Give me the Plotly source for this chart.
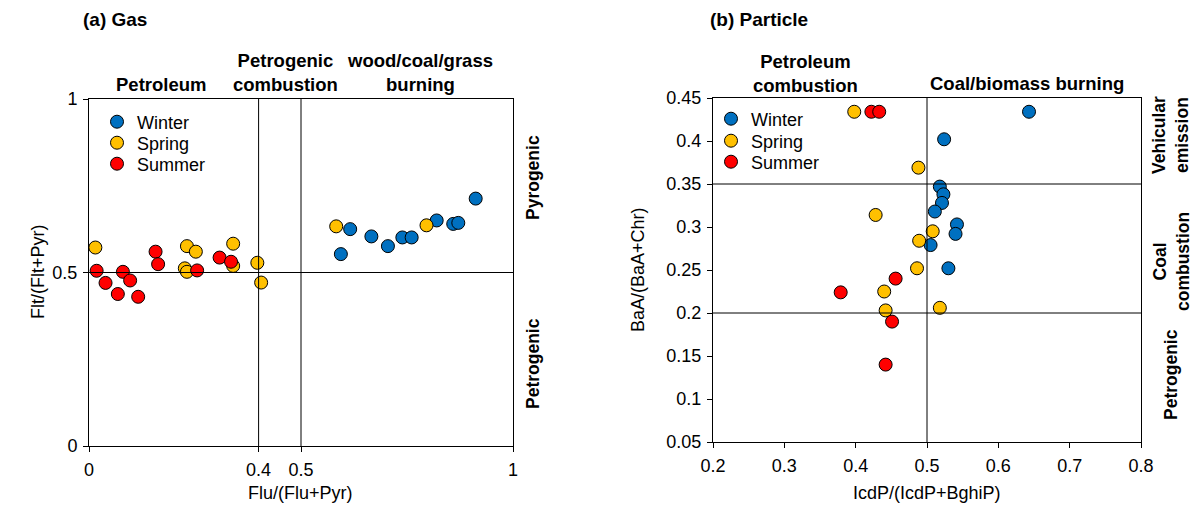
import plotly.graph_objects as go

W, H = 1195, 510
ML, MR, MT, MB = 40, 40, 40, 40

# ---- (a) Gas: Flu/(Flu+Pyr) vs Flt/(Flt+Pyr)
gas_winter_x = [0.594, 0.616, 0.666, 0.705, 0.739, 0.761, 0.820, 0.859, 0.871, 0.912]
gas_winter_y = [0.553, 0.625, 0.604, 0.576, 0.601, 0.601, 0.650, 0.640, 0.643, 0.713]
gas_spring_x = [0.015, 0.583, 0.796, 0.231, 0.252, 0.226, 0.231, 0.340, 0.340, 0.397, 0.406]
gas_spring_y = [0.572, 0.633, 0.636, 0.576, 0.560, 0.512, 0.502, 0.583, 0.519, 0.528, 0.471]
gas_summer_x = [0.018, 0.039, 0.068, 0.080, 0.097, 0.116, 0.157, 0.163, 0.255, 0.308, 0.335]
gas_summer_y = [0.505, 0.470, 0.438, 0.502, 0.477, 0.430, 0.560, 0.524, 0.506, 0.543, 0.531]

# ---- (b) Particle: IcdP/(IcdP+BghiP) vs BaA/(BaA+Chr)
par_winter_x = [0.643, 0.524, 0.518, 0.523, 0.521, 0.511, 0.542, 0.540, 0.505, 0.530]
par_winter_y = [0.434, 0.402, 0.347, 0.338, 0.328, 0.318, 0.303, 0.292, 0.279, 0.252]
par_spring_x = [0.398, 0.488, 0.428, 0.508, 0.489, 0.486, 0.440, 0.442, 0.518]
par_spring_y = [0.434, 0.369, 0.314, 0.295, 0.284, 0.252, 0.225, 0.203, 0.206]
par_summer_x = [0.422, 0.433, 0.456, 0.379, 0.451, 0.442]
par_summer_y = [0.434, 0.434, 0.240, 0.224, 0.190, 0.140]

seasons = ["Winter", "Spring", "Summer"]
colors = {"Winter": "#0070C0", "Spring": "#FFC000", "Summer": "#FF0000"}

gas_x_ticks = [0, 0.4, 0.5, 1]
gas_y_ticks = [0, 0.5, 1]
par_x_ticks = [0.2, 0.3, 0.4, 0.5, 0.6, 0.7, 0.8]
par_y_ticks = [0.05, 0.1, 0.15, 0.2, 0.25, 0.3, 0.35, 0.4, 0.45]

FONT = "Arial, Liberation Sans, sans-serif"


def px(x):
    """Pixel column -> paper fraction."""
    return (x - ML) / (W - ML - MR)


def py(y):
    """Pixel row (from top) -> paper fraction."""
    return (H - MB - y) / (H - MT - MB)


fig = go.Figure()

gas = {"Winter": (gas_winter_x, gas_winter_y),
       "Spring": (gas_spring_x, gas_spring_y),
       "Summer": (gas_summer_x, gas_summer_y)}
par = {"Winter": (par_winter_x, par_winter_y),
       "Spring": (par_spring_x, par_spring_y),
       "Summer": (par_summer_x, par_summer_y)}

marker_style = dict(size=13, line=dict(color="black", width=1))

# one legend box per entry so each row sits at its own height
gas_leg_rows = {"Winter": 122, "Spring": 143, "Summer": 164}
par_leg_rows = {"Winter": 119, "Spring": 141, "Summer": 162}
legend_font = dict(family=FONT, size=18, color="black")
legends = {}
n = 0
for panel, data, xa, ya, lx, rows in [("gas", gas, "x", "y", 97, gas_leg_rows),
                                      ("par", par, "x2", "y2", 711, par_leg_rows)]:
    for s in seasons:
        n += 1
        lname = "legend" if n == 1 else f"legend{n}"
        fig.add_trace(go.Scatter(
            x=data[s][0], y=data[s][1], mode="markers", name=s,
            marker=dict(color=colors[s], **marker_style),
            xaxis=xa, yaxis=ya, legend=lname))
        legends[lname] = dict(x=px(lx), y=py(rows[s]), xanchor="left", yanchor="middle",
                              bgcolor="rgba(0,0,0,0)", font=legend_font,
                              itemsizing="trace", borderwidth=0)

axis_common = dict(showline=True, linecolor="black", linewidth=1, mirror=True,
                   ticks="outside", ticklen=5, tickcolor="black", showgrid=False,
                   zeroline=False, automargin=False, ticklabelstandoff=2,
                   tickfont=dict(family=FONT, size=18, color="black"))

fig.update_layout(
    width=W, height=H, margin=dict(l=ML, r=MR, t=MT, b=MB, autoexpand=False),
    paper_bgcolor="white", plot_bgcolor="white", showlegend=True,
    xaxis=dict(domain=[px(89), px(513)], range=[0, 1], tickvals=gas_x_ticks,
               ticktext=["0", "0.4", "0.5", "1"], anchor="y", **axis_common),
    yaxis=dict(domain=[py(446), py(99)], range=[0, 1], tickvals=gas_y_ticks,
               ticktext=["0", "0.5", "1"], anchor="x", **axis_common),
    xaxis2=dict(domain=[px(713), px(1141)], range=[0.2, 0.8], tickvals=par_x_ticks,
                tickformat=".1f", anchor="y2", **axis_common),
    yaxis2=dict(domain=[py(442), py(98)], range=[0.05, 0.45], tickvals=par_y_ticks,
                ticktext=[f"{v:g}" for v in par_y_ticks], anchor="x2", **axis_common),
    **legends,
)

# Source-region divider lines
line = dict(color="black", width=1)
for xv in [0.4, 0.5]:
    fig.add_shape(type="line", xref="x", yref="y domain", x0=xv, x1=xv, y0=0, y1=1, line=line)
fig.add_shape(type="line", xref="x domain", yref="y", x0=0, x1=1, y0=0.5, y1=0.5, line=line)
fig.add_shape(type="line", xref="x2", yref="y2 domain", x0=0.5, x1=0.5, y0=0, y1=1, line=line)
for yv in [0.35, 0.2]:
    fig.add_shape(type="line", xref="x2 domain", yref="y2", x0=0, x1=1, y0=yv, y1=yv, line=line)

TITLE = dict(family=FONT, size=19, color="black")
BOLD = dict(family=FONT, size=18.5, color="black")
SIDE = dict(family=FONT, size=17.5, color="black")
PLAIN = dict(family=FONT, size=18, color="black")


def label(text, x, y, font, angle=0, xanchor="center"):
    fig.add_annotation(text=text, x=px(x), y=py(y), xref="paper", yref="paper",
                       showarrow=False, font=font, textangle=angle,
                       xanchor=xanchor, yanchor="middle", align="center")


# Panel titles
label("<b>(a) Gas</b>", 81, 19, TITLE, xanchor="left")
label("<b>(b) Particle</b>", 708, 19, TITLE, xanchor="left")

# Region labels, panel (a)
label("<b>Petroleum</b>", 161, 84, BOLD)
label("<b>Petrogenic<br>combustion</b>", 285, 72, BOLD)
label("<b>wood/coal/grass<br>burning</b>", 420, 72, BOLD)
label("<b>Pyrogenic</b>", 533, 178, SIDE, angle=-90)
label("<b>Petrogenic</b>", 533, 364, SIDE, angle=-90)

# Region labels, panel (b)
label("<b>Petroleum<br>combustion</b>", 805, 73, BOLD)
label("<b>Coal/biomass burning</b>", 1027, 83, BOLD)
label("<b>Vehicular<br>emission</b>", 1171, 135, SIDE, angle=-90)
label("<b>Coal<br>combustion</b>", 1171, 262, SIDE, angle=-90)
label("<b>Petrogenic</b>", 1171, 375, SIDE, angle=-90)

# Axis titles
label("Flu/(Flu+Pyr)", 300, 493, PLAIN)
label("Flt/(Flt+Pyr)", 38, 272, PLAIN, angle=-90)
label("IcdP/(IcdP+BghiP)", 927, 493, PLAIN)
label("BaA/(BaA+Chr)", 638, 270, PLAIN, angle=-90)

fig.write_html("out.html")
